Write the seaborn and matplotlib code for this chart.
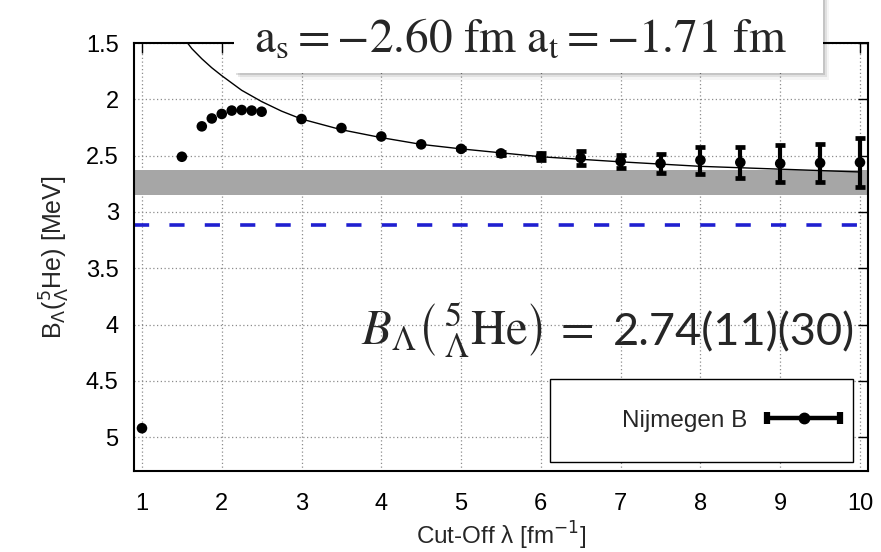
import matplotlib
matplotlib.use("Agg")
import matplotlib.pyplot as plt
import numpy as np
import pandas as pd
import seaborn as sns
from matplotlib.lines import Line2D
from matplotlib.patches import Rectangle
from matplotlib.legend_handler import HandlerLine2D, HandlerTuple

# data
cutoff = [1.0, 1.5, 1.75, 1.875, 2.0, 2.125, 2.25, 2.375, 2.5, 3.0, 3.5, 4.0,
          4.5, 5.0, 5.5, 6.0, 6.5, 7.0, 7.5, 8.0, 8.5, 9.0, 9.5, 10.0]
b_lambda = [4.92, 2.51, 2.24, 2.17, 2.13, 2.10, 2.095, 2.10, 2.11, 2.175, 2.255, 2.33,
            2.40, 2.44, 2.48, 2.51, 2.52, 2.55, 2.57, 2.54, 2.56, 2.57, 2.565, 2.56]
b_err = [0.0, 0.0, 0.0, 0.0, 0.0, 0.0, 0.0, 0.0, 0.0, 0.0, 0.0, 0.0,
         0.0, 0.005, 0.015, 0.03, 0.065, 0.06, 0.085, 0.12, 0.14, 0.165, 0.17, 0.22]

fit_x = [1.55, 1.625, 1.75, 1.875, 2.0, 2.25, 2.5, 2.75, 3.0, 3.5, 4.0, 4.5,
         5.0, 6.0, 7.0, 8.0, 9.0, 10.0]
fit_y = [1.48, 1.55, 1.64, 1.72, 1.79, 1.92, 2.02, 2.105, 2.175, 2.27, 2.34, 2.40,
         2.44, 2.51, 2.555, 2.595, 2.62, 2.645]

extrap_value = 2.74
extrap_err = 0.11
exp_value = 3.12

xticks = [1, 2, 3, 4, 5, 6, 7, 8, 9, 10]
yticks = [1.5, 2, 2.5, 3, 3.5, 4, 4.5, 5]
ytick_labels = ["1.5", "2", "2.5", "3", "3.5", "4", "4.5", "5"]

sns.set_theme(style="white")
plt.rcParams["font.family"] = ["Liberation Sans", "DejaVu Sans"]

df = pd.DataFrame({"cutoff": cutoff, "B": b_lambda, "err": b_err})
with_err = df[df["err"] > 0]

fig = plt.figure(figsize=(8.81, 5.52), dpi=100)
ax = fig.add_axes([0.1521, 0.1467, 0.8331, 0.7754])

ax.axhspan(extrap_value - extrap_err, extrap_value + extrap_err,
           color="#a6a6a6", lw=0, zorder=1)
ax.axhline(exp_value, color="#1f1fd0", lw=2.6, dashes=(4.2, 5.6), zorder=2)

sns.lineplot(x=fit_x, y=fit_y, ax=ax, color="black", lw=1.0, zorder=3)
ax.errorbar(with_err["cutoff"], with_err["B"], yerr=with_err["err"], fmt="none",
            ecolor="black", elinewidth=3.0, capsize=3.4, capthick=3.4, zorder=4)
sns.scatterplot(data=df, x="cutoff", y="B", ax=ax, color="black", s=58,
                edgecolor="none", zorder=5)

ax.set_xlim(0.9, 10.1)
ax.set_ylim(5.3, 1.5)
ax.set_xticks(xticks)
ax.set_yticks(yticks)
ax.set_yticklabels(ytick_labels)
ax.grid(True, color="#8c8c8c", lw=0.9, linestyle=(0, (1, 2)), zorder=0)
ax.set_axisbelow(True)
for s in ax.spines.values():
    s.set_color("black")
    s.set_linewidth(1.5)
ax.tick_params(direction="in", top=True, right=True, length=7, width=1.0,
               labelsize=17, colors="black", pad=11)
ax.tick_params(axis="x", pad=16)

ax.set_xlabel("Cut-Off λ [fm$^{-1}$]", fontsize=17.5, labelpad=3)
ax.set_ylabel(r"B$_\Lambda$(${}_\Lambda^{5}$He) [MeV]", fontsize=18, labelpad=10)

# legend with a gnuplot-like horizontal error bar sample
ax.add_patch(Rectangle((0.567, 0.021), 0.413, 0.194, transform=ax.transAxes,
                       facecolor="white", edgecolor="black", lw=1.0, zorder=6))
h_line = Line2D([], [], color="black", lw=3.2)
h_caps = Line2D([], [], color="black", ls="none", marker="|", markersize=8, mew=4.5)
h_dot = Line2D([], [], color="black", ls="none", marker="o", markersize=7.5)
leg = ax.legend(handles=[(h_line, h_caps, h_dot)], labels=["Nijmegen B"],
                handler_map={tuple: HandlerTuple(ndivide=1, pad=0),
                             h_caps: HandlerLine2D(numpoints=2, marker_pad=0),
                             h_dot: HandlerLine2D(numpoints=1)},
                loc="center right", bbox_to_anchor=(0.962, 0.117), frameon=False,
                markerfirst=False, fontsize=17.5, handlelength=3.0, handletextpad=0.8,
                borderpad=0, borderaxespad=0)
leg.set_zorder(7)

# boxed scattering-length annotation with a soft shadow
bx, by, bw, bh = 0.2656, 0.8678, 0.6686, 0.15
for off, a in ((0.004, 0.12), (0.008, 0.08), (0.012, 0.04)):
    fig.patches.append(Rectangle((bx + off * 0.6, by - off), bw, bh,
                                 transform=fig.transFigure, facecolor="black",
                                 edgecolor="none", alpha=a, zorder=8))
fig.patches.append(Rectangle((bx, by), bw, bh, transform=fig.transFigure,
                             facecolor="white", edgecolor="none", zorder=9))
fig.text(0.5908, 0.904,
         r"$\mathrm{a}_{\mathrm{s}} = -2.60\ \mathrm{fm}\ \mathrm{a}_{\mathrm{t}} = -1.71\ \mathrm{fm}$",
         ha="center", va="baseline", fontsize=34, math_fontfamily="stix", zorder=10)

fig.text(0.673, 0.375, r"$B_\Lambda\left(\,{}^{5}_{\Lambda}\mathrm{He}\right)\,=$",
         ha="right", va="baseline", fontsize=35, math_fontfamily="stix", zorder=10)
fig.text(0.696, 0.375, "2.74(11)(30)", ha="left", va="baseline", fontsize=32.5,
         family=["Lato", "DejaVu Sans"], zorder=10)

fig.savefig("out.png", dpi=100)
